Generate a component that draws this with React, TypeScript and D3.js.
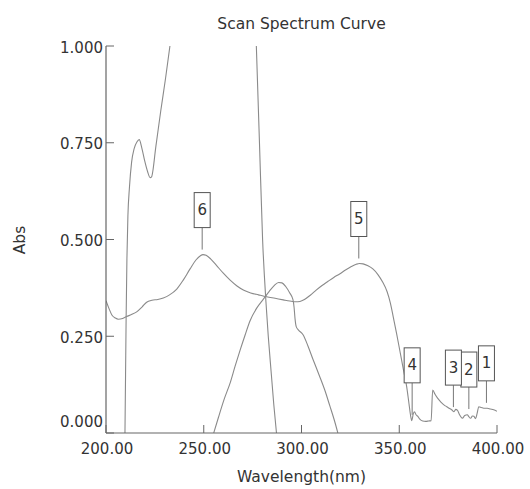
import React from 'react';
import * as d3 from 'd3';

const chartTitle = 'Scan Spectrum Curve';
const xTitle = 'Wavelength(nm)';
const yTitle = 'Abs';
const xTicks = [200, 250, 300, 350, 400];
const yTicks = [0, 0.25, 0.5, 0.75, 1.0];

// broad sample spectrum with peaks 6 and 5 and noisy tail
const curveA: [number, number][] = [
  [200, 0.342], [201.5, 0.322], [203, 0.305], [204.8, 0.297], [206.3, 0.294], [208.5, 0.296],
  [210.6, 0.301], [213, 0.306], [215.7, 0.313], [218.5, 0.326], [220.8, 0.338], [223.5, 0.343],
  [226.5, 0.345], [229.3, 0.349], [232.5, 0.357], [236.2, 0.372], [239.5, 0.395], [243, 0.424],
  [246, 0.447], [248.3, 0.458], [249.6, 0.461], [251.2, 0.459], [253.5, 0.45], [256.5, 0.433],
  [260, 0.413], [263.5, 0.395], [267, 0.38], [270.5, 0.369], [274, 0.362], [278, 0.357],
  [282.2, 0.352], [286.5, 0.348], [290.7, 0.344], [294, 0.341], [297, 0.339], [299.2, 0.34],
  [301.5, 0.345], [304.5, 0.356], [307.5, 0.369], [310.5, 0.381], [313.6, 0.392], [316.5, 0.402],
  [319.5, 0.411], [322.5, 0.421], [325.5, 0.43], [328, 0.436], [329.6, 0.438], [331.5, 0.437],
  [334, 0.432], [336.5, 0.424], [339, 0.41], [341.5, 0.39], [343.8, 0.365], [345.5, 0.335],
  [347, 0.298], [348.6, 0.258], [350.4, 0.21], [352.2, 0.162], [353.8, 0.12], [355, 0.075],
  [355.8, 0.045], [356.4, 0.032], [357.2, 0.05], [357.8, 0.055], [358.6, 0.047], [359.5, 0.043],
  [360.5, 0.036], [362, 0.031], [363.5, 0.03], [365, 0.031], [366.3, 0.032], [367.1, 0.111],
  [368.3, 0.1], [369.6, 0.09], [371.3, 0.08], [373, 0.072], [374.3, 0.068], [375.5, 0.064],
  [376.8, 0.06], [378, 0.055], [378.9, 0.061], [379.7, 0.059], [381, 0.046], [382.3, 0.038],
  [383.5, 0.045], [384.8, 0.047], [385.6, 0.042], [386.5, 0.038], [387.4, 0.044], [388.2, 0.043],
  [389, 0.037], [389.8, 0.05], [390.7, 0.068], [392, 0.066], [393.2, 0.064], [395, 0.064],
  [396.6, 0.062], [398.3, 0.06], [400, 0.056],
];

// steep curve rising on the far left
const curveB: [number, number][] = [
  [209.7, 0], [210, 0.15], [210.3, 0.3], [210.7, 0.45], [211.2, 0.56], [212, 0.635],
  [213.1, 0.7], [214.4, 0.735], [215.8, 0.752], [217, 0.758], [218.3, 0.737], [219.8, 0.703],
  [221.3, 0.675], [222.6, 0.66], [223.3, 0.662], [225.5, 0.74], [228, 0.832], [230.5, 0.918],
  [232.7, 1.0],
];

// nearly vertical descending curve
const curveC: [number, number][] = [
  [276.9, 1.0], [278.5, 0.75], [280.1, 0.5], [281.8, 0.34], [283, 0.25], [284.6, 0.15],
  [285.8, 0.075], [287.2, 0],
];

// bell shaped curve around 289 nm
const curveD: [number, number][] = [
  [255.1, 0], [257.5, 0.04], [260.5, 0.088], [263.6, 0.131], [266, 0.172], [268.6, 0.214],
  [271.2, 0.254], [273.7, 0.29], [277, 0.322], [280.5, 0.346], [283.5, 0.366], [286, 0.381],
  [288.3, 0.389], [290, 0.388], [292, 0.378], [294, 0.362], [295.6, 0.345], [296.2, 0.325],
  [296.7, 0.295], [297.3, 0.275], [298.5, 0.266], [300.8, 0.254], [303.3, 0.225],
  [305.9, 0.19], [309, 0.15], [311.9, 0.111], [314.5, 0.07], [316.8, 0.033], [318.6, 0],
];

const peakIds = ['1', '2', '3', '4', '5', '6'];
const peakNm = [394.6, 385.6, 377.7, 356.6, 329.3, 249.2];
const peakAbs = [0.065, 0.049, 0.054, 0.034, 0.438, 0.461];

export default function App() {
  const W = 530;
  const H = 489;
  const x = d3.scaleLinear().domain([200, 400]).range([106, 497]);
  const y = d3.scaleLinear().domain([0, 1]).range([433, 46]);
  const line = d3
    .line<[number, number]>()
    .x((d) => x(d[0]))
    .y((d) => y(d[1]))
    .curve(d3.curveMonotoneX);

  const font = 'DejaVu Sans, Verdana, sans-serif';
  const textColor = '#333';
  const curveColor = '#8a8a8a';
  const axisColor = '#666';
  const [x0, x1] = x.range();
  const [yb, yt] = y.range();

  const leaderLen = (id: string) => (id === '4' ? 32 : 22);

  return (
    <svg
      width={W}
      height={H}
      viewBox={`0 0 ${W} ${H}`}
      style={{ position: 'absolute', left: 0, top: 0, background: '#fff' }}
    >
      <defs>
        <clipPath id="plotClip">
          <rect x={x0} y={yt} width={x1 - x0} height={yb - yt} />
        </clipPath>
      </defs>
      <rect x={0} y={0} width={W} height={H} fill="#fff" />

      <text
        x={(x0 + x1) / 2}
        y={23.5}
        textAnchor="middle"
        dominantBaseline="central"
        fontFamily={font}
        fontSize={15.5}
        fill={textColor}
      >
        {chartTitle}
      </text>

      {/* curves */}
      <g clipPath="url(#plotClip)" fill="none" stroke={curveColor} strokeWidth={1.1}>
        {[curveA, curveB, curveC, curveD].map((c, i) => (
          <path key={i} d={line(c) || ''} />
        ))}
      </g>

      {/* axes */}
      <line x1={x0} x2={x0} y1={yt} y2={yb} stroke={axisColor} strokeWidth={1.2} />
      <line x1={x0} x2={x1} y1={yb} y2={yb} stroke={axisColor} strokeWidth={1.2} />

      {yTicks.map((v) => (
        <g key={'y' + v}>
          <line x1={x0} x2={x0 + 8} y1={y(v)} y2={y(v)} stroke={axisColor} strokeWidth={1} />
          <text
            x={x0 - 3}
            y={v === 0 ? y(v) - 11 : y(v) + 1.5}
            textAnchor="end"
            dominantBaseline="central"
            fontFamily={font}
            fontSize={15}
            fill={textColor}
          >
            {v.toFixed(3)}
          </text>
        </g>
      ))}

      {xTicks.map((v) => (
        <g key={'x' + v}>
          <line x1={x(v)} x2={x(v)} y1={yb} y2={yb - 8} stroke={axisColor} strokeWidth={1} />
          <text
            x={x(v) + 1}
            y={448.5}
            textAnchor="middle"
            dominantBaseline="central"
            fontFamily={font}
            fontSize={15}
            fill={textColor}
          >
            {v.toFixed(2)}
          </text>
        </g>
      ))}

      <text
        x={(x0 + x1) / 2}
        y={477}
        textAnchor="middle"
        dominantBaseline="central"
        fontFamily={font}
        fontSize={15.5}
        fill={textColor}
      >
        {xTitle}
      </text>
      <text
        transform={`translate(20, 240) rotate(-90)`}
        textAnchor="middle"
        dominantBaseline="central"
        fontFamily={font}
        fontSize={15.5}
        fill={textColor}
      >
        {yTitle}
      </text>

      {/* peak labels */}
      {peakIds.map((id, i) => {
        const px = x(peakNm[i]);
        const end = y(peakAbs[i]) - 5;
        const bottom = end - leaderLen(id);
        const bw = 16;
        const bh = 35;
        return (
          <g key={'p' + id}>
            <line x1={px} x2={px} y1={end} y2={bottom} stroke="#777" strokeWidth={1} />
            <rect
              x={px - bw / 2}
              y={bottom - bh}
              width={bw}
              height={bh}
              fill="#fff"
              stroke="#555"
              strokeWidth={1}
            />
            <text
              x={px}
              y={bottom - bh / 2}
              textAnchor="middle"
              dominantBaseline="central"
              fontFamily={font}
              fontSize={15}
              fill={textColor}
            >
              {id}
            </text>
          </g>
        );
      })}
    </svg>
  );
}
